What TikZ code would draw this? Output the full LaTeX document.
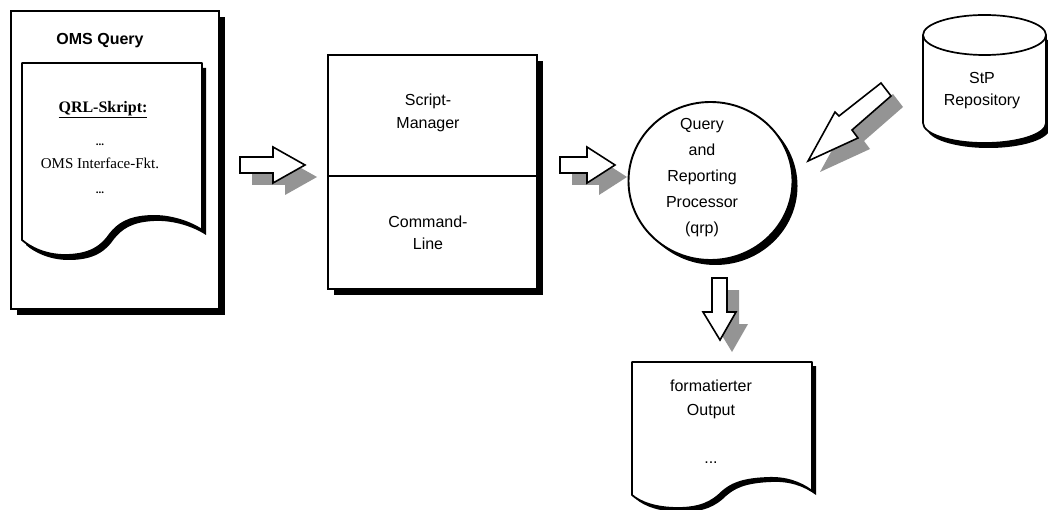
\documentclass[tikz,border=0pt]{standalone}
\usepackage{fontspec}
\setmainfont{Liberation Serif}
\setsansfont{Liberation Sans}
\usetikzlibrary{shapes.geometric,shadows}

\tikzset{
  frame/.style={draw=black, fill=white, line width=1.9pt, inner sep=0pt},
  blackshadow/.style={drop shadow={shadow xshift=6pt, shadow yshift=-6pt, opacity=1, fill=black}},
  roundshadow/.style={drop shadow={shadow xshift=5pt, shadow yshift=-5pt, opacity=1, fill=black}},
  docline/.style={draw=black, fill=white, line width=1.8pt, line join=round},
  docshadow/.style={fill=black},
  blockarr/.style={draw=black, fill=white, line width=1.6pt, line join=miter},
  arrshadow/.style={fill=black!42, draw=none},
  lbl/.style={font=\sffamily\fontsize{16}{23}\selectfont, align=center, inner sep=0pt},
  serifl/.style={font=\rmfamily\fontsize{15}{18}\selectfont, inner sep=0pt},
  ellipsis/.style={font=\rmfamily\bfseries\fontsize{11}{11}\selectfont, inner sep=0pt},
}

\begin{document}
\begin{tikzpicture}[x=1pt, y=-1pt]
\useasboundingbox (0,0) rectangle (1048,510);

% ---------- OMS Query document ----------
\node[frame, blackshadow, minimum width=208pt, minimum height=298pt, anchor=north west] (query) at (10,10) {};
\node[font=\sffamily\bfseries\fontsize{16}{19}\selectfont, inner sep=0pt] (qtitle) at (100,40.5) {OMS Query};

% inner script sheet with torn bottom
\fill[docshadow, shift={(4,5)}] (22,63) -- (202,63) -- (202,230)
  .. controls (190,222) and (170,215) .. (150,216)
  .. controls (128,217) and (118,224) .. (110,234)
  .. controls (102,246) and (90,255) .. (65,255)
  .. controls (45,255) and (30,247) .. (22,240) -- cycle;
\path[docline] (22,63) coordinate (sheetnw) -- (202,63) -- (202,230)
  .. controls (190,222) and (170,215) .. (150,216)
  .. controls (128,217) and (118,224) .. (110,234)
  .. controls (102,246) and (90,255) .. (65,255)
  .. controls (45,255) and (30,247) .. (22,240) -- cycle;
\node[font=\rmfamily\bfseries\fontsize{16}{19}\selectfont, inner sep=0pt] (qrl) at (103,110) {\underline{QRL-Skript:}};
\node[ellipsis] (dotsa) at (100,145) {...};
\node[serifl] (iface) at (100,163.5) {OMS Interface-Fkt.};
\node[ellipsis] (dotsb) at (100,193) {...};

% ---------- Script-Manager / Command-Line box ----------
\node[frame, blackshadow, minimum width=209pt, minimum height=234pt, anchor=north west] (mgr) at (327,54) {};
\coordinate (divy) at (0,176);
\draw[line width=1.9pt] (mgr.west |- divy) -- (mgr.east |- divy);
\node[lbl] (script) at (428,112.5) {Script-\\Manager};
\node[lbl, font=\sffamily\fontsize{16}{22}\selectfont] (cmd) at (428,233) {Command-\\Line};

% ---------- Query and Reporting Processor ----------
\node[ellipse, frame, roundshadow, minimum width=164pt, minimum height=158pt] (qrp) at (710.5,181) {};
\node[lbl, font=\sffamily\fontsize{16}{26}\selectfont] (qrptext) at (702,178) {Query\\and\\Reporting\\Processor\\(qrp)};

% ---------- StP Repository cylinder ----------
\fill[docshadow, shift={(4,5)}] (923,35) -- (923,123)
  .. controls (923,134) and (950.5,143) .. (984.5,143)
  .. controls (1018.5,143) and (1046,134) .. (1046,123) -- (1046,35) -- cycle;
\fill[white] (923,35) -- (923,123)
  .. controls (923,134) and (950.5,143) .. (984.5,143)
  .. controls (1018.5,143) and (1046,134) .. (1046,123) -- (1046,35) -- cycle;
\draw[line width=1.7pt] (923,35) -- (923,123)
  .. controls (923,134) and (950.5,143) .. (984.5,143)
  .. controls (1018.5,143) and (1046,134) .. (1046,123) -- (1046,35);
\draw[line width=1.7pt, fill=white] (984.5,35) ellipse [x radius=61.5, y radius=20];
\coordinate (repo) at (984.5,80);
\node[lbl, font=\sffamily\fontsize{16}{22}\selectfont] (repotext) at (982,91) {StP\\Repository};

% ---------- formatted output sheet ----------
\fill[docshadow, shift={(4,4)}] (632,362) -- (812,362) -- (812,491)
  .. controls (800,482) and (785,477) .. (767,478)
  .. controls (740,479) and (730,485) .. (722,492)
  .. controls (712,502) and (700,508) .. (678,508)
  .. controls (655,508) and (640,502) .. (632,495) -- cycle;
\path[docline] (632,362) coordinate (outnw) -- (812,362) -- (812,491)
  .. controls (800,482) and (785,477) .. (767,478)
  .. controls (740,479) and (730,485) .. (722,492)
  .. controls (712,502) and (700,508) .. (678,508)
  .. controls (655,508) and (640,502) .. (632,495) -- cycle;
\node[lbl, font=\sffamily\fontsize{16}{24}\selectfont] (outtext) at (711,422) {formatierter\\Output\\[24pt]...};

% ---------- block arrows ----------
% query -> script manager
\fill[arrshadow, shift={(12,12)}] (240,157) -- (273,157) -- (273,147) -- (305,165) -- (273,183) -- (273,173) -- (240,173) -- cycle;
\path[blockarr] (240,157) -- (273,157) -- (273,147) -- (305,165) -- (273,183) -- (273,173) -- (240,173) -- cycle;
% script manager -> qrp
\fill[arrshadow, shift={(12,12)}] (560,157) -- (587,157) -- (587,147) -- (615,165) -- (587,183) -- (587,173) -- (560,173) -- cycle;
\path[blockarr] (560,157) -- (587,157) -- (587,147) -- (615,165) -- (587,183) -- (587,173) -- (560,173) -- cycle;
% repository -> qrp
\fill[arrshadow, shift={(12,11)}] (881,83) -- (891,96) -- (852,130) -- (858,138) -- (808,161) -- (835,112) -- (839,116) -- cycle;
\path[blockarr] (881,83) -- (891,96) -- (852,130) -- (858,138) -- (808,161) -- (835,112) -- (839,116) -- cycle;
% qrp -> output
\fill[arrshadow, shift={(12,12)}] (712,278) -- (727,278) -- (727,312) -- (736,312) -- (720,340) -- (703,312) -- (712,312) -- cycle;
\path[blockarr] (712,278) -- (727,278) -- (727,312) -- (736,312) -- (720,340) -- (703,312) -- (712,312) -- cycle;

\end{tikzpicture}
\end{document}
